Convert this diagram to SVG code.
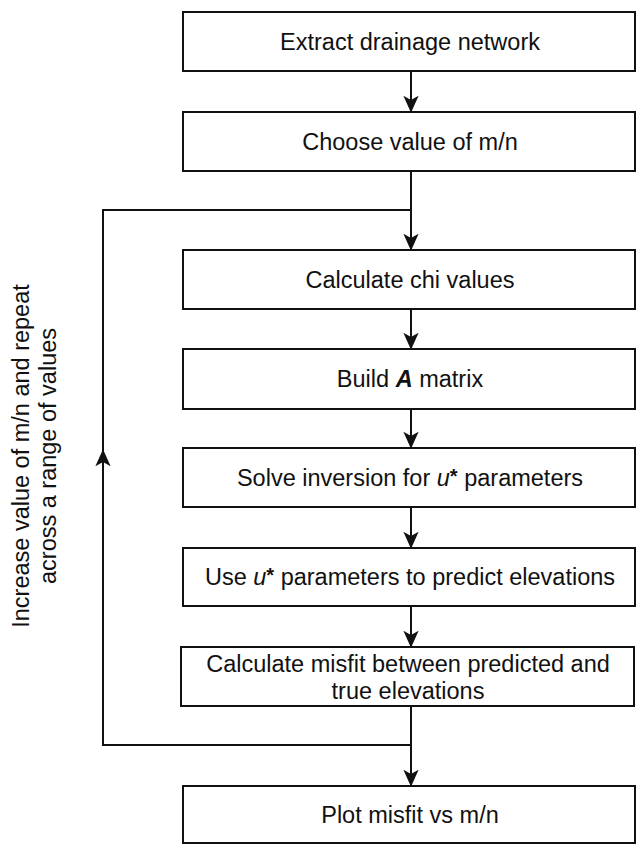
<svg xmlns="http://www.w3.org/2000/svg" width="636" height="844" viewBox="0 0 636 844">
<style>
.box{fill:#fff;stroke:#111;stroke-width:2}
.t{font-family:"Liberation Sans",Arial,sans-serif;font-size:23.5px;fill:#111;text-anchor:middle}
.c{fill:none;stroke:#111;stroke-width:2}
</style>
<defs>
<marker id="ah" viewBox="0 0 20 20" refX="18" refY="10" markerWidth="17" markerHeight="17" markerUnits="userSpaceOnUse" orient="auto">
<path d="M0,1 L20,10 L0,19 L5,10 Z" fill="#111"/>
</marker>
</defs>
<rect width="636" height="844" fill="#fff"/>
<g id="connectors">
<line class="c" x1="411" y1="71" x2="411" y2="111" marker-end="url(#ah)"/>
<line class="c" x1="411" y1="171" x2="411" y2="249" marker-end="url(#ah)"/>
<line class="c" x1="411" y1="309" x2="411" y2="348" marker-end="url(#ah)"/>
<line class="c" x1="411" y1="409" x2="411" y2="447" marker-end="url(#ah)"/>
<line class="c" x1="411" y1="507" x2="411" y2="547" marker-end="url(#ah)"/>
<line class="c" x1="411" y1="606" x2="411" y2="646" marker-end="url(#ah)"/>
<line class="c" x1="411" y1="706" x2="411" y2="785" marker-end="url(#ah)"/>
<polyline class="c" points="411,745 103,745 103,210 411,210"/>
<line class="c" x1="103" y1="600" x2="103" y2="451" marker-end="url(#ah)"/>
</g>
<g id="n1"><rect class="box" x="183" y="12" width="452" height="59"/><text class="t" x="410" y="50">Extract drainage network</text></g>
<g id="n2"><rect class="box" x="183" y="112" width="452" height="59"/><text class="t" x="410" y="150">Choose value of m/n</text></g>
<g id="n3"><rect class="box" x="183" y="250" width="452" height="59"/><text class="t" x="410" y="288">Calculate chi values</text></g>
<g id="n4"><rect class="box" x="183" y="349" width="452" height="60"/><text class="t" x="410" y="387">Build <tspan font-weight="bold" font-style="italic">A</tspan> matrix</text></g>
<g id="n5"><rect class="box" x="183" y="448" width="452" height="59"/><text class="t" x="410" y="486">Solve inversion for <tspan font-style="italic">u</tspan><tspan font-size="20" font-weight="bold" dy="-3">*</tspan><tspan dy="3"> parameters</tspan></text></g>
<g id="n6"><rect class="box" x="183" y="548" width="452" height="58"/><text class="t" x="410" y="585">Use <tspan font-style="italic">u</tspan><tspan font-size="20" font-weight="bold" dy="-3">*</tspan><tspan dy="3"> parameters to predict elevations</tspan></text></g>
<g id="n7"><rect class="box" x="181" y="647" width="453" height="59"/><text class="t" x="408" y="672">Calculate misfit between predicted and</text><text class="t" x="408" y="699">true elevations</text></g>
<g id="n8"><rect class="box" x="183" y="786" width="452" height="57"/><text class="t" x="410" y="823">Plot misfit vs m/n</text></g>
<g id="loop-label">
<text class="t" transform="translate(29,456) rotate(-90)">Increase value of m/n and repeat</text>
<text class="t" transform="translate(56,456) rotate(-90)">across a range of values</text>
</g>
</svg>
